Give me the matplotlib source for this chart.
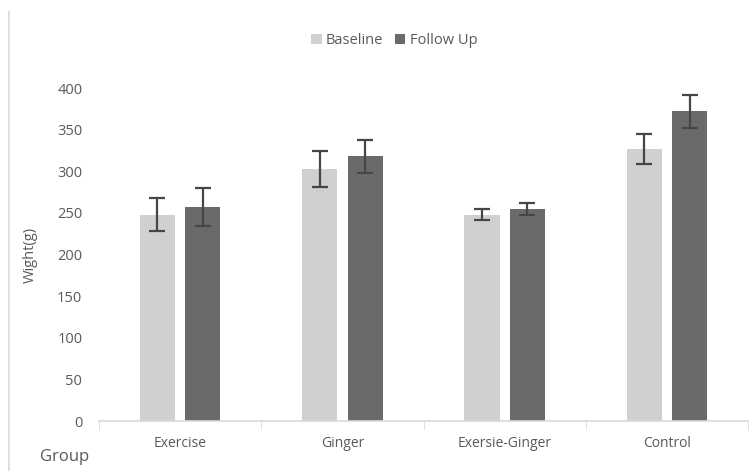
import numpy as np
import matplotlib.pyplot as plt
from matplotlib.lines import Line2D

groups = ["Exercise", "Ginger", "Exersie-Ginger", "Control"]
baseline = [248, 303, 248, 327]
baseline_err = [20, 22, 6.5, 18]
follow_up = [257, 318, 255, 372]
follow_up_err = [23, 20, 7.5, 20]
yticks = [0, 50, 100, 150, 200, 250, 300, 350, 400]

plt.rcParams['font.family'] = ['Open Sans', 'DejaVu Sans']

fig = plt.figure(figsize=(7.53, 4.71), dpi=100)
ax = fig.add_axes([0.1315, 0.106, 0.862, 0.707])

x = np.arange(len(groups))
width = 0.217
offset = 0.14
err_kw = dict(ecolor='#464646', elinewidth=1.6, capsize=6, capthick=1.6)
ax.bar(x - offset, baseline, width, color='#d0d0d0', label='Baseline',
       yerr=baseline_err, error_kw=err_kw)
ax.bar(x + offset, follow_up, width, color='#6a6a6a', label='Follow Up',
       yerr=follow_up_err, error_kw=err_kw)

ax.set_xlim(-0.5, len(groups) - 0.5)
ax.set_ylim(0, 400)
ax.set_yticks(yticks)
ax.set_xticks(x)
ax.set_xticklabels(groups)
ax.set_xticks(np.arange(len(groups) + 1) - 0.5, minor=True)
ax.tick_params(axis='x', which='major', length=0, pad=11, labelsize=10, labelcolor='#595959')
ax.tick_params(axis='x', which='minor', length=6, color='#d9d9d9', direction='out')
ax.tick_params(axis='y', length=0, pad=12, labelsize=10.5, labelcolor='#595959')

for side in ['top', 'right', 'left']:
    ax.spines[side].set_visible(False)
ax.spines['bottom'].set_color('#d9d9d9')
ax.spines['bottom'].set_linewidth(1.2)

ax.set_ylabel('Wight(g)', fontsize=10.5, color='#595959', labelpad=14)
fig.text(0.053, 0.022, 'Group', fontsize=12, color='#595959')

ax.legend(loc='upper center', bbox_to_anchor=(0.455, 1.205), ncol=2, frameon=False,
          fontsize=10.5, labelcolor='#595959', handlelength=0.7, handleheight=0.7,
          handletextpad=0.3, columnspacing=0.8)

fig.add_artist(Line2D([0.012, 0.012], [0.975, 0.0], transform=fig.transFigure,
                      color='#d9d9d9', linewidth=1.2))

fig.savefig('out.png', dpi=100)
